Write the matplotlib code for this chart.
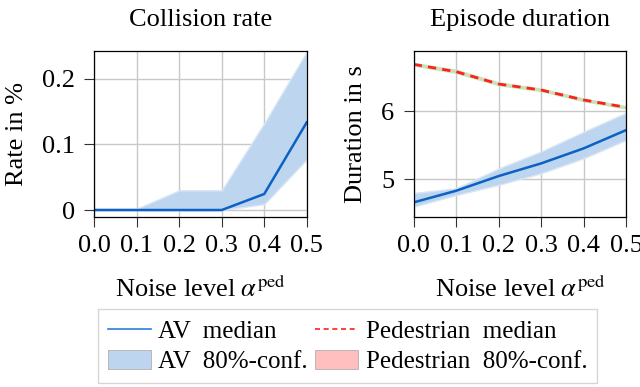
import matplotlib
matplotlib.use("Agg")
import matplotlib.pyplot as plt
from matplotlib.lines import Line2D
from matplotlib.patches import Patch

plt.rcParams['font.family'] = ['Liberation Serif', 'DejaVu Serif']
plt.rcParams['mathtext.fontset'] = 'stix'

noise = [0.0, 0.1, 0.2, 0.3, 0.4, 0.5]
xticklabels = ["0.0", "0.1", "0.2", "0.3", "0.4", "0.5"]

# Collision rate
coll_med = [0.0, 0.0, 0.0, 0.0, 0.0244, 0.1335]
coll_lo = [0.0, 0.0, 0.0, 0.0, 0.009, 0.077]
coll_hi = [0.002, 0.002, 0.030, 0.030, 0.132, 0.241]

# Episode duration
av_med = [4.662, 4.833, 5.049, 5.235, 5.456, 5.725]
av_lo = [4.60, 4.77, 4.92, 5.09, 5.31, 5.58]
av_hi = [4.80, 4.87, 5.16, 5.41, 5.70, 5.98]
ped_med = [6.691, 6.583, 6.402, 6.314, 6.167, 6.059]
ped_lo = [6.675, 6.565, 6.385, 6.298, 6.150, 6.043]
ped_hi = [6.712, 6.612, 6.425, 6.335, 6.190, 6.075]

FS = 19
LFS = 18
BLUE = '#0b62c4'
BAND = '#bdd5ee'
BAND_EDGE = '#d8e6f5'
RED = '#ff1f1f'
PINK = '#ffbfbf'
GREEN = '#b8f0b8'

fig = plt.figure(figsize=(6.4, 3.87), dpi=100)
ax1 = fig.add_axes([0.1473, 0.440, 0.332, 0.429])
ax2 = fig.add_axes([0.6464, 0.440, 0.332, 0.429])

for ax in (ax1, ax2):
    ax.grid(True, color='#c8c8c8', linewidth=1.0)
    ax.set_axisbelow(True)
    ax.set_xlim(0, 0.5)
    ax.set_xticks(noise)
    ax.set_xticklabels(xticklabels, fontsize=FS)
    ax.tick_params(axis='both', direction='out', length=7, width=0.8,
                   color='#333333', labelsize=FS)
    ax.tick_params(axis='x', pad=6)
    ax.tick_params(axis='y', pad=7)
    for s in ax.spines.values():
        s.set_linewidth(0.9)
        s.set_color('black')
    ax.set_xlabel(r"Noise level $\alpha^{\mathrm{ped}}$", fontsize=FS, labelpad=13)

# Left: collision rate
ax1.fill_between(noise, coll_lo, coll_hi, facecolor=BAND, edgecolor=BAND_EDGE, linewidth=1.0)
ax1.plot(noise, coll_med, color=BLUE, linewidth=1.8)
ax1.set_ylim(-0.0102, 0.2425)
ax1.set_yticks([0, 0.1, 0.2])
ax1.set_yticklabels(["0", "0.1", "0.2"])
ax1.set_ylabel("Rate in %", fontsize=FS, labelpad=10)
ax1.set_title("Collision rate", fontsize=FS, pad=18)

# Right: episode duration
ax2.fill_between(noise, av_lo, av_hi, facecolor=BAND, edgecolor=BAND_EDGE, linewidth=1.0)
ax2.plot(noise, av_med, color=BLUE, linewidth=1.8)
ax2.fill_between(noise, ped_lo, ped_hi, facecolor=PINK, edgecolor=GREEN, linewidth=1.0)
ax2.plot(noise, ped_med, color=RED, linewidth=2.0, linestyle=(0, (3, 2.2)))
ax2.set_ylim(4.451, 6.892)
ax2.set_yticks([5, 6])
ax2.set_yticklabels(["5", "6"])
ax2.set_ylabel("Duration in s", fontsize=FS, labelpad=10)
ax2.set_title("Episode duration", fontsize=FS, pad=18)

handles = [
    Line2D([], [], color='#2a7fdc', linewidth=1.2),
    Patch(facecolor=BAND, edgecolor='#b0b0b0', linewidth=0.6),
    Line2D([], [], color=RED, linewidth=1.2, linestyle=(0, (3, 2.2))),
    Patch(facecolor=PINK, edgecolor='#b0b0b0', linewidth=0.6),
]
labels = ["AV  median", "AV  80%-conf.", "Pedestrian  median", "Pedestrian  80%-conf."]
leg = fig.legend(handles, labels, ncol=2, loc='center', bbox_to_anchor=(0.543, 0.1047),
                 fontsize=LFS, frameon=True, fancybox=False, edgecolor='#cccccc',
                 handlelength=1.72, handleheight=0.8, handletextpad=0.3, columnspacing=0.3,
                 labelspacing=0.3, borderpad=0.4)
leg.get_frame().set_linewidth(1.0)

fig.savefig("out.png", dpi=100)
